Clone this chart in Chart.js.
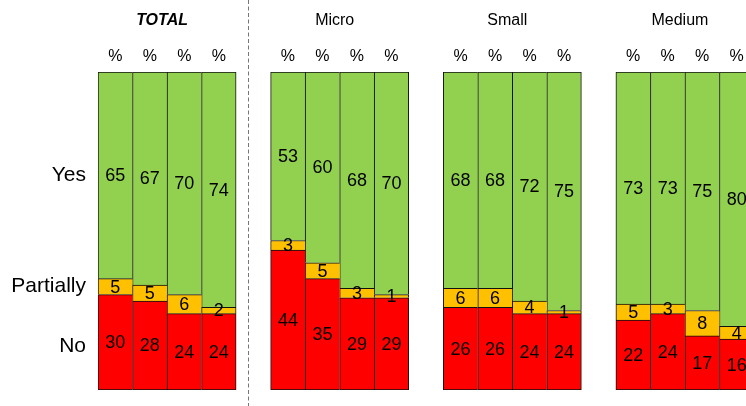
<!DOCTYPE html>
<html>
<head>
<meta charset="utf-8">
<script src="https://cdn.jsdelivr.net/npm/chart.js@4.4.1/dist/chart.umd.min.js"></script>
<style>
  html, body { margin: 0; padding: 0; background: #fff; overflow: hidden; }
  #wrap { position: relative; width: 760px; height: 406px; }
</style>
</head>
<body>
<div id="wrap"><canvas id="myChart"></canvas></div>
<script>
// groups of 4 bars each, values in %
const groups = ['TOTAL', 'Micro', 'Small', 'Medium'];
const barTick = '%';
const rowNames = ['No', 'Partially', 'Yes'];
const noVals = [30, 28, 24, 24, 44, 35, 29, 29, 26, 26, 24, 24, 22, 24, 17, 16];
const partVals = [5, 5, 6, 2, 3, 5, 3, 1, 6, 6, 4, 1, 5, 3, 8, 4];
const yesVals = [65, 67, 70, 74, 53, 60, 68, 70, 68, 68, 72, 75, 73, 73, 75, 80];
const colors = ['#FF0000', '#FFC000', '#92D050'];

const perGroup = 4;
const fontFam = '"Liberation Sans", Arial, Helvetica, sans-serif';

// put an empty slot between groups
const withGaps = (arr, fill) => {
  let out = [];
  arr.forEach((v, i) => {
    out.push(v);
    if ((i + 1) % perGroup == 0 && i < arr.length - 1) out.push(fill);
  });
  return out;
};
const labels = withGaps(noVals.map(() => barTick), '');

const lastInGroup = (idx) => {
  return labels[idx] !== '' && (idx + 1 >= labels.length || labels[idx + 1] === '');
};

const makeSet = (name, vals, color, di) => ({
  label: name,
  data: withGaps(vals, null),
  backgroundColor: color,
  borderColor: '#111',
  borderSkipped: false,
  borderWidth: (ctx) => ({
    top: 1,
    left: 1,
    right: lastInGroup(ctx.dataIndex) ? 1 : 0,
    bottom: di == 0 ? 1 : 0
  }),
  barPercentage: 1,
  categoryPercentage: 1
});

const textPlugin = {
  id: 'texts',
  afterDatasetsDraw(chart) {
    const ctx = chart.ctx;
    const x = chart.scales.x;
    ctx.save();
    ctx.fillStyle = '#000';

    // dashed separator after TOTAL
    const sepX = Math.round(x.getPixelForValue(perGroup)) - 5 + 0.5;
    ctx.strokeStyle = '#777';
    ctx.lineWidth = 1;
    ctx.setLineDash([4, 2.5]);
    ctx.beginPath();
    ctx.moveTo(sepX, 0);
    ctx.lineTo(sepX, chart.height);
    ctx.stroke();
    ctx.setLineDash([]);

    // group titles and % ticks
    ctx.textAlign = 'center';
    ctx.textBaseline = 'middle';
    groups.forEach((g, gi) => {
      const first = gi * (perGroup + 1);
      const cx = (x.getPixelForValue(first) + x.getPixelForValue(first + perGroup - 1)) / 2;
      ctx.font = (gi == 0 ? 'italic bold ' : '') + '16px ' + fontFam;
      ctx.fillText(g, cx - 5, 21);
      ctx.font = '16px ' + fontFam;
      for (let k = 0; k < perGroup; k++) {
        ctx.fillText(barTick, x.getPixelForValue(first + k), 57);
      }
    });

    // values inside each segment
    ctx.font = '18px ' + fontFam;
    chart.data.datasets.forEach((ds, di) => {
      const meta = chart.getDatasetMeta(di);
      meta.data.forEach((bar, i) => {
        if (ds.data[i] == null) return;
        ctx.fillText(String(ds.data[i]), bar.x, (bar.y + bar.base) / 2 + 1);
      });
    });

    // row names next to the first bar
    ctx.font = '21px ' + fontFam;
    ctx.textAlign = 'right';
    rowNames.forEach((n, di) => {
      const bar = chart.getDatasetMeta(di).data[0];
      let y = (bar.y + bar.base) / 2;
      if (di == 0) y += 4;
      ctx.fillText(n, 86, y);
    });
    ctx.restore();
  }
};

var canvas = document.getElementById('myChart');
var chart = new Chart(canvas.getContext('2d'), {
  type: 'bar',
  data: {
    labels: labels,
    datasets: [
      makeSet(rowNames[0], noVals, colors[0], 0),
      makeSet(rowNames[1], partVals, colors[1], 1),
      makeSet(rowNames[2], yesVals, colors[2], 2)
    ]
  },
  options: {
    responsive: true,
    maintainAspectRatio: false,
    animation: false,
    layout: { padding: { left: 98, right: 6, top: 72, bottom: 16 } },
    plugins: { legend: { display: false }, tooltip: { enabled: false } },
    scales: {
      x: { stacked: true, display: false },
      y: { stacked: true, display: false, min: 0, max: 100 }
    }
  },
  plugins: [textPlugin]
});
</script>
</body>
</html>
